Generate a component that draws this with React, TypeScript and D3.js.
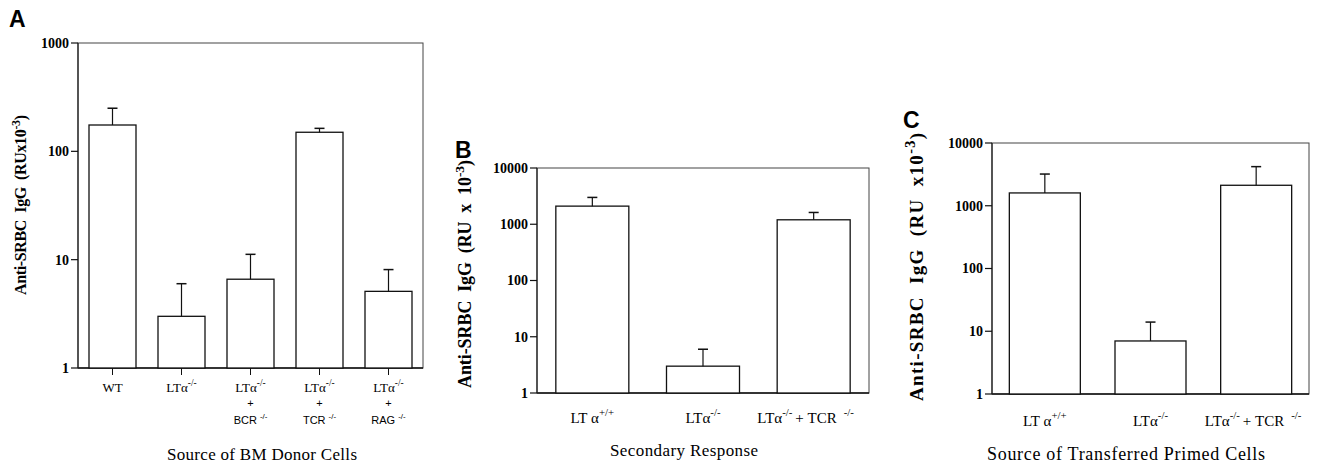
import React from "react";
import * as d3 from "d3";

// ---------- data ----------
const catsA = ["WT", "LTa-/-", "LTa-/- + BCR-/-", "LTa-/- + TCR-/-", "LTa-/- + RAG-/-"];
const valuesA = [175, 3.0, 6.6, 150, 5.1];
const errorsA = [250, 6.0, 11.2, 163, 8.1];
const ticksA = [1, 10, 100, 1000];

const catsB = ["LTa+/+", "LTa-/-", "LTa-/- + TCR-/-"];
const valuesB = [2100, 3.0, 1200];
const errorsB = [3000, 6.0, 1620];
const ticksB = [1, 10, 100, 1000, 10000];

const catsC = ["LTa+/+", "LTa-/-", "LTa-/- + TCR-/-"];
const valuesC = [1600, 7.0, 2120];
const errorsC = [3200, 14.0, 4200];
const ticksC = [1, 10, 100, 1000, 10000];

const SERIF = "'Liberation Serif', 'Times New Roman', serif";
const SANS = "'Liberation Sans', Arial, sans-serif";

type LabelKind = "stack" | "inline";

interface PanelProps {
  letter: string;
  letterX: number;
  letterY: number;
  cats: string[];
  values: number[];
  errors: number[];
  ticks: number[];
  x0: number;
  x1: number;
  yTop: number;
  yBottom: number;
  barWidth: number;
  yTitle: React.ReactNode;
  yTitleX: number;
  yTitleY: number;
  yTitleSize: number;
  yTitleLen: number;
  xTitle: string;
  xTitleX: number;
  xTitleY: number;
  xTitleSize: number;
  xTitleLen: number;
  labelKind: LabelKind;
  labelY: number;
  labelSize: number;
  labelShift: number;
  bottomTicks: boolean;
}

function Sup({ t, size, dx = 0 }: { t: string; size: number; dx?: number }) {
  return (
    <tspan dx={dx} dy={-size * 0.45} fontSize={size * 0.72}>
      {t}
    </tspan>
  );
}

function CatLabel({
  cat,
  x,
  y,
  kind,
  size,
  shift,
}: {
  cat: string;
  x: number;
  y: number;
  kind: LabelKind;
  size: number;
  shift: number;
}) {
  if (cat === "WT") {
    return (
      <text x={x} y={y} textAnchor="middle" fontFamily={SERIF} fontSize={size}>
        WT
      </text>
    );
  }
  const m = cat.match(/^LTa([+\-/]+)(?: \+ (\w+)([+\-/]+))?$/);
  if (!m) return null;
  const sup1 = m[1];
  const second = m[2];
  const sup2 = m[3];
  const base = sup1 === "+/+" ? "LT α" : "LTα";
  if (kind === "stack") {
    return (
      <g>
        <text x={x} y={y} textAnchor="middle" fontFamily={SERIF} fontSize={size}>
          {base}
          <Sup t={sup1} size={size} />
        </text>
        {second && (
          <>
            <text x={x} y={y + 15} textAnchor="middle" fontFamily={SANS} fontSize={11}>
              +
            </text>
            <text x={x} y={y + 32} textAnchor="middle" fontFamily={SANS} fontSize={11}>
              {second}
              <tspan dx={3} dy={-11 * 0.45} fontSize={11 * 0.72}>
                {sup2}
              </tspan>
            </text>
          </>
        )}
      </g>
    );
  }
  return (
    <text x={x + (second ? shift : 0)} y={y} textAnchor="middle" fontFamily={SERIF} fontSize={size}>
      {base}
      <Sup t={sup1} size={size} />
      {second && (
        <>
          <tspan dx={3} dy={size * 0.45} fontSize={size}>
            {"+ "}
          </tspan>
          <tspan>{second}</tspan>
          <Sup t={sup2!} size={size} dx={7} />
        </>
      )}
    </text>
  );
}

function Panel(p: PanelProps) {
  const x = d3.scalePoint<string>().domain(p.cats).range([p.x0, p.x1]).padding(0.5);
  const y = d3
    .scaleLog()
    .domain([p.ticks[0], p.ticks[p.ticks.length - 1]])
    .range([p.yBottom, p.yTop]);
  return (
    <g>
      <text x={p.letterX} y={p.letterY} fontFamily={SANS} fontWeight="bold" fontSize={23}>
        {p.letter}
      </text>
      {/* frame */}
      <rect
        x={p.x0}
        y={p.yTop}
        width={p.x1 - p.x0}
        height={p.yBottom - p.yTop}
        fill="none"
        stroke="#444"
        strokeWidth={1}
      />
      <line x1={p.x0} x2={p.x1} y1={p.yBottom} y2={p.yBottom} stroke="#111" strokeWidth={1.5} />
      <line x1={p.x0} x2={p.x0} y1={p.yTop} y2={p.yBottom} stroke="#222" strokeWidth={1.2} />
      {/* y ticks */}
      {p.ticks.map((t) => (
        <g key={t}>
          <line x1={p.x0 - 7} x2={p.x0} y1={y(t)} y2={y(t)} stroke="#111" strokeWidth={1.2} />
          <text
            x={p.x0 - 9}
            y={y(t)}
            dy="0.35em"
            textAnchor="end"
            fontFamily={SERIF}
            fontWeight="bold"
            fontSize={14}
          >
            {t}
          </text>
        </g>
      ))}
      {/* bars */}
      {p.cats.map((c, i) => {
        const cx = x(c)!;
        const top = y(p.values[i]);
        const et = y(p.errors[i]);
        return (
          <g key={c}>
            <rect
              x={cx - p.barWidth / 2}
              y={top}
              width={p.barWidth}
              height={p.yBottom - top}
              fill="#fff"
              stroke="#111"
              strokeWidth={1.3}
            />
            <line x1={cx} x2={cx} y1={top} y2={et} stroke="#111" strokeWidth={1.2} />
            <line x1={cx - 5} x2={cx + 5} y1={et} y2={et} stroke="#111" strokeWidth={1.5} />
            {p.bottomTicks && (
              <line x1={cx} x2={cx} y1={p.yBottom} y2={p.yBottom + 7} stroke="#111" strokeWidth={1} />
            )}
            <CatLabel
              cat={c}
              x={cx}
              y={p.labelY}
              kind={p.labelKind}
              size={p.labelSize}
              shift={p.labelShift}
            />
          </g>
        );
      })}
      {/* y title */}
      <text
        transform={`translate(${p.yTitleX},${p.yTitleY}) rotate(-90)`}
        textAnchor="middle"
        fontFamily={SERIF}
        fontWeight="bold"
        fontSize={p.yTitleSize}
        textLength={p.yTitleLen}
        lengthAdjust="spacing"
        style={{ whiteSpace: "pre" }}
      >
        {p.yTitle}
      </text>
      <text
        x={p.xTitleX}
        y={p.xTitleY}
        textAnchor="middle"
        fontFamily={SERIF}
        fontSize={p.xTitleSize}
        textLength={p.xTitleLen}
        lengthAdjust="spacing"
      >
        {p.xTitle}
      </text>
    </g>
  );
}

function YT({ pre, size }: { pre: string; size: number }) {
  return (
    <>
      {pre}
      <tspan dy={-size * 0.4} fontSize={size * 0.75}>
        -3
      </tspan>
      <tspan dy={size * 0.4}>)</tspan>
    </>
  );
}

export default function App() {
  return (
    <svg width={1330} height={466} style={{ position: "absolute", left: 0, top: 0, background: "#fff" }}>
      <Panel
        letter="A"
        letterX={9}
        letterY={27}
        cats={catsA}
        values={valuesA}
        errors={errorsA}
        ticks={ticksA}
        x0={78}
        x1={423}
        yTop={43}
        yBottom={368}
        barWidth={47}
        yTitle={<YT pre={"Anti-SRBC  IgG  (RUx10"} size={16} />}
        yTitleX={26}
        yTitleY={205}
        yTitleSize={16}
        yTitleLen={180}
        xTitle="Source of BM Donor Cells"
        xTitleX={262}
        xTitleY={460}
        xTitleSize={17}
        xTitleLen={190}
        labelKind="stack"
        labelY={392}
        labelSize={13}
        labelShift={0}
        bottomTicks={true}
      />
      <Panel
        letter="B"
        letterX={455}
        letterY={158}
        cats={catsB}
        values={valuesB}
        errors={errorsB}
        ticks={ticksB}
        x0={537}
        x1={869}
        yTop={168}
        yBottom={393}
        barWidth={73}
        yTitle={<YT pre={"Anti-SRBC  IgG  (RU  x  10"} size={18} />}
        yTitleX={471}
        yTitleY={274}
        yTitleSize={18}
        yTitleLen={228}
        xTitle="Secondary Response"
        xTitleX={684}
        xTitleY={456}
        xTitleSize={17}
        xTitleLen={148}
        labelKind="inline"
        labelY={423}
        labelSize={15}
        labelShift={-8}
        bottomTicks={false}
      />
      <Panel
        letter="C"
        letterX={903}
        letterY={128}
        cats={catsC}
        values={valuesC}
        errors={errorsC}
        ticks={ticksC}
        x0={992}
        x1={1309}
        yTop={143}
        yBottom={394}
        barWidth={71}
        yTitle={<YT pre={"Anti-SRBC  IgG  (RU  x10"} size={19} />}
        yTitleX={923}
        yTitleY={267}
        yTitleSize={19}
        yTitleLen={268}
        xTitle="Source of Transferred Primed Cells"
        xTitleX={1126}
        xTitleY={460}
        xTitleSize={18}
        xTitleLen={278}
        labelKind="inline"
        labelY={426}
        labelSize={15}
        labelShift={-3}
        bottomTicks={false}
      />
    </svg>
  );
}
